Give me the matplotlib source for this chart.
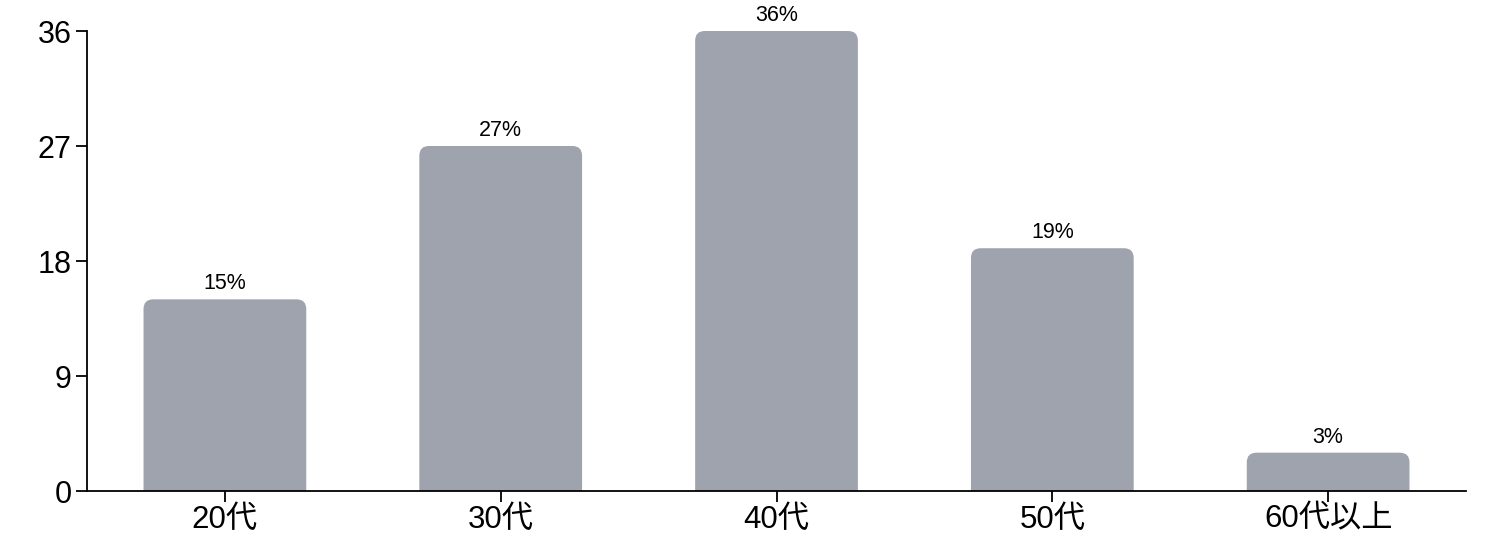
import matplotlib.pyplot as plt
from matplotlib.patches import FancyBboxPatch

plt.rcParams['font.family'] = ['Liberation Sans', 'Noto Sans CJK JP', 'DejaVu Sans']

categories = ['20代', '30代', '40代', '50代', '60代以上']
values = [15, 27, 36, 19, 3]
labels = ['15%', '27%', '36%', '19%', '3%']
yticks = [0, 9, 18, 27, 36]

fig = plt.figure(figsize=(14.92, 5.44), dpi=100)
ax = fig.add_axes([0.0583, 0.0974, 0.9243, 0.8456])

x = list(range(len(categories)))
bar_w = 0.59
bars = ax.bar(x, values, width=bar_w, color='#9ea3ae')

# swap plain bars for ones with rounded tops (bottom hidden below 0)
for b in bars:
    x0, w, h = b.get_x(), b.get_width(), b.get_height()
    b.remove()
    p = FancyBboxPatch((x0, -2), w, h + 2,
                       boxstyle='round,pad=0,rounding_size=0.035',
                       mutation_aspect=36 / 460 * 1379 / 5,
                       facecolor='#9ea3ae', edgecolor='none')
    ax.add_patch(p)

for xi, v, lab in zip(x, values, labels):
    ax.annotate(lab, (xi, v), xytext=(0, 3.5), textcoords='offset points',
                ha='center', va='bottom', fontsize=15.5)

ax.set_xlim(-0.5, len(categories) - 0.5)
ax.set_ylim(0, 36)
ax.set_yticks(yticks)
ax.set_xticks(x)
ax.set_xticklabels(categories)
ax.tick_params(axis='y', labelsize=22, length=8, width=1.3, pad=3)
ax.tick_params(axis='x', labelsize=22.5, length=8, width=1.3, pad=2)
for s in ['top', 'right']:
    ax.spines[s].set_visible(False)
for s in ['left', 'bottom']:
    ax.spines[s].set_linewidth(1.3)

fig.savefig('out.png', dpi=100)
